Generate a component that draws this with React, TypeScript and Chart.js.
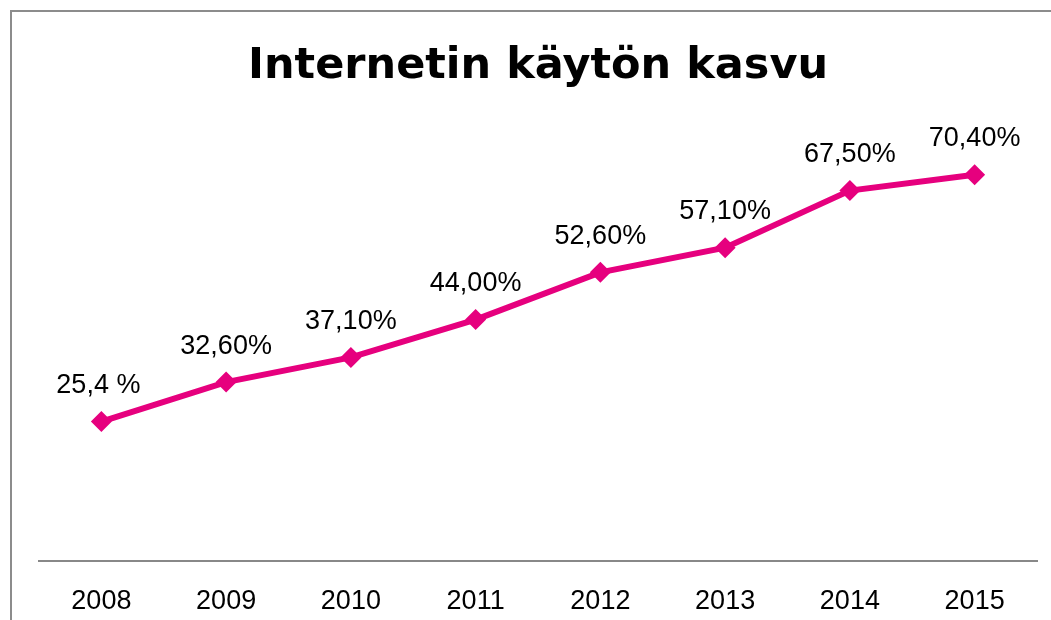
import React, { useEffect, useRef } from "react";
import { Chart, registerables } from "chart.js";

Chart.register(...registerables);

const years = ["2008", "2009", "2010", "2011", "2012", "2013", "2014", "2015"];
const usage = [25.4, 32.6, 37.1, 44.0, 52.6, 57.1, 67.5, 70.4];
const usageLabels = ["25,4 %", "32,60%", "37,10%", "44,00%", "52,60%", "57,10%", "67,50%", "70,40%"];
const chartTitle = "Internetin käytön kasvu";

const MAGENTA = "#E6007E";

export default function App() {
  const ref = useRef<HTMLCanvasElement | null>(null);

  useEffect(() => {
    if (!ref.current) return;
    const titlePlugin = {
      id: "customTitle",
      afterDraw(chart: any) {
        const ctx = chart.ctx;
        ctx.save();
        ctx.font = "bold 43px 'DejaVu Sans'";
        ctx.fillStyle = "#000";
        ctx.textAlign = "center";
        ctx.textBaseline = "alphabetic";
        ctx.fillText(chartTitle, 538, 78);
        ctx.restore();
      },
    };
    const labelPlugin = {
      id: "pointLabels",
      afterDatasetsDraw(chart: any) {
        const ctx = chart.ctx;
        const meta = chart.getDatasetMeta(0);
        ctx.save();
        ctx.font = "27px 'Liberation Sans'";
        ctx.fillStyle = "#000";
        ctx.textAlign = "center";
        ctx.textBaseline = "middle";
        meta.data.forEach((pt: any, i: number) => {
          ctx.fillText(usageLabels[i], pt.x - (i === 0 ? 3 : 0), pt.y - 36);
        });
        ctx.restore();
      },
    };
    const chart = new Chart(ref.current, {
      type: "line",
      data: {
        labels: years,
        datasets: [
          {
            data: usage,
            borderColor: MAGENTA,
            backgroundColor: MAGENTA,
            borderWidth: 6,
            pointStyle: "rectRot",
            pointRadius: 10.5,
            pointHoverRadius: 10.5,
            pointBorderWidth: 0,
            tension: 0,
          },
        ],
      },
      options: {
        responsive: false,
        animation: false,
        layout: { padding: { left: 39, right: 14, top: 122, bottom: 0 } },
        plugins: {
          legend: { display: false },
          title: { display: false },
          tooltip: { enabled: false },
        },
        scales: {
          x: {
            offset: true,
            grid: { display: false },
            border: { display: true, color: "#888888", width: 2 },
            ticks: {
              color: "#000",
              font: { family: "'Liberation Sans'", size: 27 },
              padding: 16,
              maxRotation: 0,
            },
            afterFit(scale: any) {
              scale.height = 59;
            },
          },
          y: {
            display: false,
            min: 0,
            max: 80,
          },
        },
      },
      plugins: [titlePlugin, labelPlugin],
    });
    return () => chart.destroy();
  }, []);

  return (
    <div style={{ position: "absolute", left: 0, top: 0, width: 1051, height: 620, overflow: "hidden", background: "#fff" }}>
      <div
        style={{
          position: "absolute",
          left: 10,
          top: 10,
          width: 1100,
          height: 700,
          border: "2px solid #8c8c8c",
          boxSizing: "border-box",
        }}
      />
      <canvas ref={ref} width={1051} height={620} style={{ position: "absolute", left: 0, top: 0 }} />
    </div>
  );
}
